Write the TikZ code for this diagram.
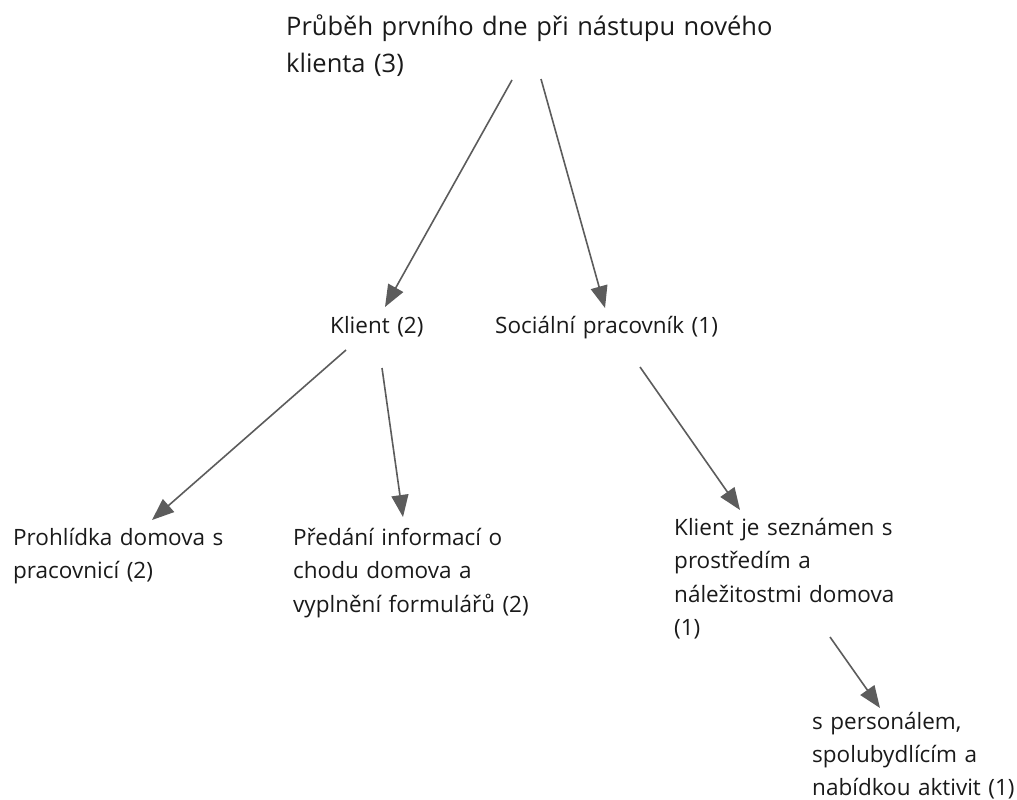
\documentclass[tikz,border=0pt]{standalone}
\usepackage{fontspec}
\setmainfont{Open Sans}
\usetikzlibrary{arrows.meta,calc}

\definecolor{ink}{HTML}{1A1A1A}
\definecolor{edge}{HTML}{5C5C5C}

\tikzset{
  label/.style={anchor=base west, inner sep=0pt, text=ink, align=left,
    text width=340pt, font=\fontsize{22.5}{33.5}\selectfont},
  heading/.style={label, text width=540pt, font=\fontsize{25.5}{36}\selectfont},
  arr/.style={draw=edge, line width=1.6pt,
    -{Triangle[length=22pt,width=17pt,fill=edge]}},
}

\begin{document}
\begin{tikzpicture}[x=1pt,y=-1pt]
  \fill[white] (0,0) rectangle (1017,800);
  \useasboundingbox (0,0) rectangle (1017,800);

  % topic and its two branches
  \node[heading] (root) at (286,36) {Průběh prvního dne při nástupu nového\\klienta (3)};
  \node[label] (klient) at (330,333) {Klient (2)};
  \node[label] (socialni) at (495,333) {Sociální pracovník (1)};

  % second level
  \node[label] (prohlidka) at (13,545) {Prohlídka domova s\\pracovnicí (2)};
  \node[label] (predani) at (293,545) {Předání informací o\\chodu domova a\\vyplnění formulářů (2)};
  \node[label] (seznamen) at (674,535) {Klient je seznámen s\\prostředím a\\náležitostmi domova\\(1)};

  % third level
  \node[label, font=\fontsize{22.5}{33}\selectfont] (personal) at (812,729)
    {s personálem,\\spolubydlícím a\\nabídkou aktivit (1)};

  % connectors
  \draw[arr] ($(root.base west)+(226,44)$) -- ($(klient.base west)+(55,-26)$);
  \draw[arr] ($(root.base west)+(255,43)$) -- ($(socialni.base west)+(110,-25)$);
  \draw[arr] ($(klient.base west)+(16,17)$) -- ($(prohlidka.base west)+(139,-25)$);
  \draw[arr] ($(klient.base west)+(52,35)$) -- ($(predani.base west)+(110,-28)$);
  \draw[arr] ($(socialni.base west)+(145,34)$) -- ($(seznamen.base west)+(66,-25)$);
  \draw[arr] ($(seznamen.base west)+(156,102)$) -- ($(personal.base west)+(68,-21)$);
\end{tikzpicture}
\end{document}
